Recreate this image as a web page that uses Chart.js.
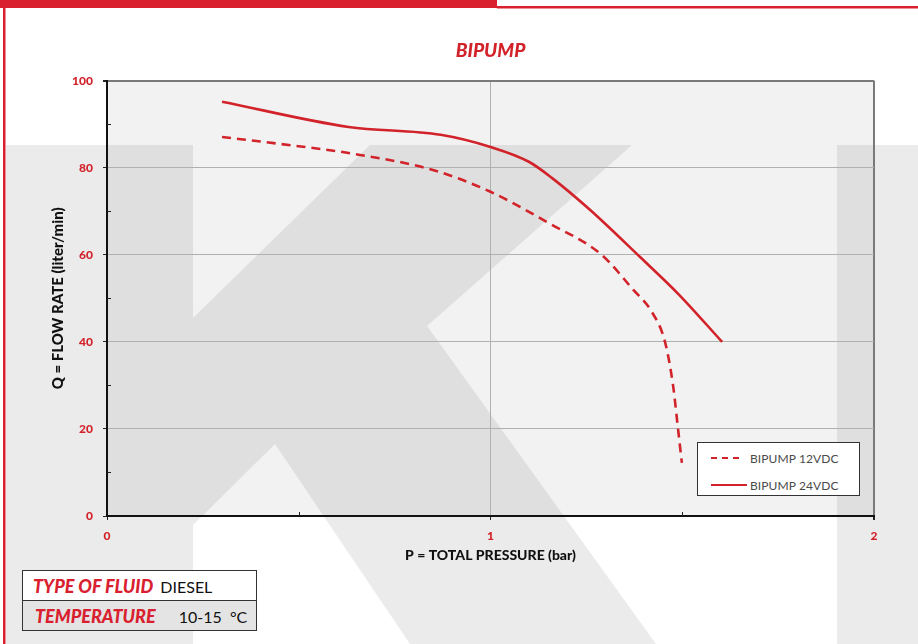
<!DOCTYPE html>
<html>
<head>
<meta charset="utf-8">
<script src="https://cdn.jsdelivr.net/npm/chart.js@4/dist/chart.umd.min.js"></script>
<style>
  html, body { margin: 0; padding: 0; background: #ffffff; }
  #wrap { position: relative; width: 918px; height: 644px; overflow: hidden; }
  #c { position: absolute; left: 0; top: 0; }
  #legend { position: absolute; left: 697px; top: 442px; width: 163px; height: 54px;
    background: #ffffff; border: 1.5px solid #333; box-sizing: border-box; font-family: Lato, "DejaVu Sans", sans-serif; }
  #legend .item { position: absolute; left: 0; height: 14px; display: flex; align-items: center; }
  #legend .sample { width: 36px; height: 0; margin-left: 13px; margin-right: 3px; }
  #legend .txt { font-size: 12px; color: #4a4a4a; letter-spacing: 0.1px; }
  #info { position: absolute; left: 22px; top: 570px; width: 235px; border-collapse: collapse;
    font-family: Lato, "DejaVu Sans", sans-serif; }
  #info td { border: 1.5px solid #333; padding: 0; height: 29px; white-space: nowrap; }
  #info .k { color: #d9202f; font-weight: 900; font-style: italic; font-size: 18px; }
  #info .v { color: #111; font-size: 16px; }
</style>
</head>
<body>
<div id="wrap">
  <canvas id="c" width="918" height="644"></canvas>
  <div id="legend"></div>
  <table id="info">
    <tr style="background:#ffffff"><td><span class="k" style="margin-left:10px">TYPE OF FLUID</span><span class="v" style="margin-left:7px">DIESEL</span></td></tr>
    <tr style="background:#e4e4e4"><td><span class="k" style="margin-left:12px">TEMPERATURE</span><span class="v" style="margin-left:23px">10-15 &nbsp;°C</span></td></tr>
  </table>
</div>
<script>
// ---- data ----
const chartTitle = "BIPUMP";
const xTitle = "P = TOTAL PRESSURE (bar)";
const yTitle = "Q = FLOW RATE (liter/min)";
const seriesLabels = ["BIPUMP 12VDC", "BIPUMP 24VDC"];

const pressure12 = [0.30, 0.45, 0.63, 0.85, 1.00, 1.15, 1.29, 1.372, 1.42, 1.455, 1.476, 1.489, 1.499];
const flow12     = [87.1, 85.5, 83.4, 79.5, 74.5, 67.4, 60.0, 52.0, 47.0, 40.0, 30.0, 20.0, 12.2];

const pressure24 = [0.30, 0.63, 0.87, 1.00, 1.10, 1.16, 1.26, 1.39, 1.49, 1.604];
const flow24     = [95.2, 89.4, 87.6, 84.8, 81.4, 77.7, 70.3, 59.5, 51.0, 40.0];

const xTicks = [0, 1, 2];
const yTicks = [0, 20, 40, 60, 80, 100];

// ---- styling ----
const RED = "#d2232a";
const FONT = "Lato, 'DejaVu Sans', sans-serif";

const toPts = (xs, ys) => xs.map((x, i) => ({ x: x, y: ys[i] }));

const bgPlugin = {
  id: "bg",
  beforeDraw(chart) {
    const ctx = chart.ctx;
    const W = chart.width, H = chart.height;
    ctx.save();
    ctx.fillStyle = "#ffffff";
    ctx.fillRect(0, 0, W, H);
    // watermark
    ctx.fillStyle = "#ebebeb";
    ctx.fillRect(6, 145, 187, H - 145);
    ctx.fillRect(837, 145, W - 837, H - 145);
    ctx.beginPath();
    ctx.moveTo(193, 318);
    ctx.lineTo(370, 145);
    ctx.lineTo(632, 145);
    ctx.lineTo(427, 326);
    ctx.lineTo(656, H);
    ctx.lineTo(410, H);
    ctx.lineTo(275, 444);
    ctx.lineTo(193, 525);
    ctx.closePath();
    ctx.fill();
    // plot area tint
    const a = chart.chartArea;
    ctx.fillStyle = "rgba(0,0,0,0.05)";
    ctx.fillRect(a.left, a.top, a.right - a.left, a.bottom - a.top);
    ctx.restore();
  },
  afterDraw(chart) {
    const ctx = chart.ctx;
    const W = chart.width, H = chart.height;
    const a = chart.chartArea;
    const xs = chart.scales.x, ys = chart.scales.y;
    ctx.save();
    // minor ticks inside
    ctx.strokeStyle = "#222";
    ctx.lineWidth = 1;
    [10, 30, 50, 70, 90].forEach(v => {
      const y = Math.round(ys.getPixelForValue(v)) + 0.5;
      ctx.beginPath(); ctx.moveTo(a.left, y); ctx.lineTo(a.left + 4, y); ctx.stroke();
    });
    [0.5, 1.5].forEach(v => {
      const x = Math.round(xs.getPixelForValue(v)) + 0.5;
      ctx.beginPath(); ctx.moveTo(x, a.bottom); ctx.lineTo(x, a.bottom - 4); ctx.stroke();
    });
    // red frame
    ctx.fillStyle = "#d9202f";
    ctx.fillRect(0, 0, 497, 8);
    ctx.fillRect(497, 6, W - 497, 2.5);
    ctx.fillRect(3, 0, 2.5, H);
    ctx.restore();
  }
};

const chart = new Chart(document.getElementById("c"), {
  type: "line",
  data: {
    datasets: [
      {
        label: seriesLabels[0],
        data: toPts(pressure12, flow12),
        borderColor: RED,
        borderWidth: 2.6,
        borderDash: [9, 6],
        pointRadius: 0,
        fill: false,
        cubicInterpolationMode: "monotone"
      },
      {
        label: seriesLabels[1],
        data: toPts(pressure24, flow24),
        borderColor: RED,
        borderWidth: 2.6,
        pointRadius: 0,
        fill: false,
        cubicInterpolationMode: "monotone"
      }
    ]
  },
  options: {
    responsive: false,
    animation: false,
    events: [],
    layout: { padding: { top: 0, right: 44, bottom: 0, left: 0 } },
    plugins: {
      legend: { display: false },
      tooltip: { enabled: false },
      title: {
        display: true,
        fullSize: false,
        text: chartTitle,
        color: RED,
        font: { family: FONT, size: 19, weight: "900", style: "italic", lineHeight: 1.2 },
        padding: { top: 39, bottom: 19 }
      }
    },
    scales: {
      x: {
        type: "linear",
        min: 0, max: 2,
        afterFit(s) { s.height = 128; },
        afterBuildTicks(s) { s.ticks = xTicks.map(v => ({ value: v })); },
        ticks: {
          color: RED,
          font: { family: FONT, size: 12, weight: "900" },
          padding: 9,
          maxRotation: 0
        },
        grid: {
          color: ctx => ctx.tick && ctx.tick.value === 1 ? "#b0b0b0" : (ctx.tick && ctx.tick.value === 2 ? "#7a7a7a" : "rgba(0,0,0,0)"),
          lineWidth: ctx => ctx.tick && ctx.tick.value === 2 ? 2 : 1,
          tickColor: "#222",
          tickLength: 4
        },
        border: { display: true, color: "#111", width: 2 },
        title: {
          display: true,
          text: xTitle,
          color: "#111",
          font: { family: FONT, size: 14, weight: "900" },
          padding: { top: 0, bottom: 80 }
        }
      },
      y: {
        type: "linear",
        min: 0, max: 100,
        afterFit(s) { s.width = 107; },
        afterBuildTicks(s) { s.ticks = yTicks.map(v => ({ value: v })); },
        ticks: {
          color: RED,
          font: { family: FONT, size: 12, weight: "900" },
          padding: 10
        },
        grid: {
          color: ctx => ctx.tick && ctx.tick.value === 100 ? "#7a7a7a" : (ctx.tick && ctx.tick.value === 0 ? "rgba(0,0,0,0)" : "#b0b0b0"),
          lineWidth: ctx => ctx.tick && ctx.tick.value === 100 ? 2 : 1,
          tickColor: "#222",
          tickLength: 4
        },
        border: { display: true, color: "#111", width: 2 },
        title: {
          display: true,
          text: yTitle,
          color: "#111",
          font: { family: FONT, size: 15, weight: "900" },
          padding: { top: 49, bottom: 0 }
        }
      }
    }
  },
  plugins: [bgPlugin]
});

// HTML legend built from the datasets
const legendEl = document.getElementById("legend");
chart.data.datasets.forEach((ds, i) => {
  const item = document.createElement("div");
  item.className = "item";
  item.style.top = (i === 0 ? 8 : 35) + "px";
  const sample = document.createElement("div");
  sample.className = "sample";
  if (ds.borderDash) {
    sample.style.borderTop = "2.6px dashed " + ds.borderColor;
    sample.style.width = "28px";
    sample.style.marginRight = "11px";
  } else {
    sample.style.borderTop = "2.6px solid " + ds.borderColor;
  }
  const t = document.createElement("span");
  t.className = "txt";
  t.textContent = ds.label;
  item.appendChild(sample);
  item.appendChild(t);
  legendEl.appendChild(item);
});
</script>
</body>
</html>
